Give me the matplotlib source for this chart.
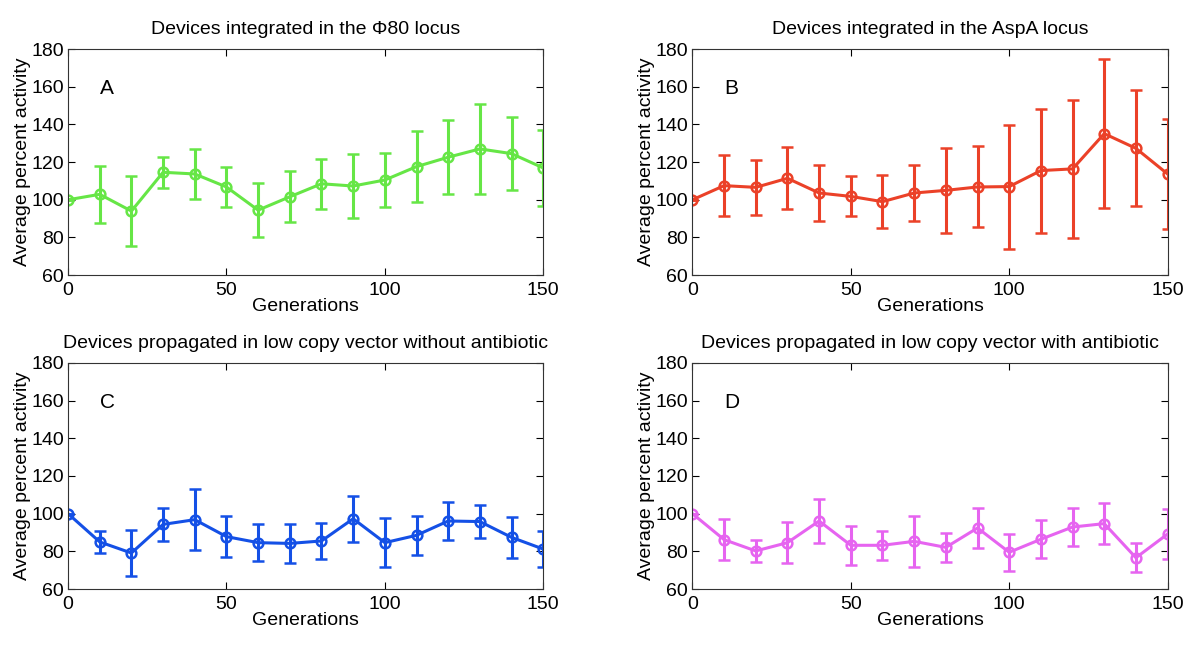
import matplotlib
matplotlib.use("Agg")
import matplotlib.pyplot as plt

plt.rcParams.update({
    "font.family": ["Liberation Sans", "DejaVu Sans"], "font.size": 14,
    "xtick.direction": "in", "ytick.direction": "in",
    "xtick.top": True, "ytick.right": True,
    "axes.linewidth": 0.8, "axes.edgecolor": "#333333",
})

generations = list(range(0, 151, 10))

# A: Phi80 locus
mean_a = [100, 102.9, 94.0, 114.6, 113.7, 106.8, 94.5, 101.6, 108.5, 107.3, 110.5, 117.6, 122.6, 127.0, 124.5, 116.9]
err_a = [0, 15.0, 18.5, 8.2, 13.2, 10.5, 14.3, 13.6, 13.4, 17.2, 14.1, 19.0, 19.5, 24.0, 19.4, 20.3]
# B: AspA locus
mean_b = [100, 107.5, 106.6, 111.4, 103.6, 101.8, 99.0, 103.6, 105.0, 106.8, 107.0, 115.5, 116.4, 135.1, 127.3, 113.7]
err_b = [0, 16.2, 14.6, 16.5, 14.8, 10.6, 13.9, 15.1, 22.6, 21.5, 32.9, 32.9, 36.8, 39.5, 30.8, 29.0]
# C: low copy vector, no antibiotic
mean_c = [100, 85.0, 79.1, 94.3, 96.8, 87.8, 84.6, 84.2, 85.5, 97.3, 84.6, 88.5, 96.1, 95.8, 87.4, 81.2]
err_c = [0, 5.8, 12.2, 8.7, 16.3, 11.0, 9.7, 10.5, 9.7, 12.3, 13.0, 10.2, 9.9, 8.7, 11.0, 9.6]
# D: low copy vector, with antibiotic
mean_d = [100, 86.2, 80.2, 84.6, 96.1, 83.2, 83.2, 85.3, 82.1, 92.4, 79.5, 86.4, 92.9, 94.7, 76.6, 89.2]
err_d = [0, 10.9, 5.7, 10.8, 11.8, 10.5, 7.6, 13.6, 7.8, 10.7, 9.8, 10.1, 9.9, 10.9, 7.6, 13.3]

panels = [
    ("Devices integrated in the \u03a680 locus", "A", mean_a, err_a, "#66E646"),
    ("Devices integrated in the AspA locus", "B", mean_b, err_b, "#EB4128"),
    ("Devices propagated in low copy vector without antibiotic", "C", mean_c, err_c, "#1450E6"),
    ("Devices propagated in low copy vector with antibiotic", "D", mean_d, err_d, "#E664F0"),
]
positions = [
    [0.0567, 0.585, 0.396, 0.341],
    [0.577, 0.585, 0.396, 0.341],
    [0.0567, 0.1116, 0.396, 0.341],
    [0.577, 0.1116, 0.396, 0.341],
]

fig = plt.figure(figsize=(12, 6.63), dpi=100)
for (title, letter, mean, err, color), pos in zip(panels, positions):
    ax = fig.add_axes(pos)
    ax.errorbar(generations, mean, yerr=err, color=color, lw=2.2, elinewidth=2.2,
                capsize=4.5, capthick=2.2, marker="o", ms=7, mfc="none", mew=1.8)
    ax.set_xlim(0, 150); ax.set_ylim(60, 180)
    ax.set_xticks([0, 50, 100, 150]); ax.set_yticks(range(60, 181, 20))
    ax.tick_params(length=5, labelsize=14)
    ax.tick_params(axis="x", pad=5)
    ax.tick_params(axis="y", pad=3)
    ax.set_title(title, fontsize=14, pad=11)
    ax.set_xlabel("Generations", fontsize=14, labelpad=-1)
    ax.set_ylabel("Average percent activity", fontsize=14, labelpad=0)
    ax.text(10, 159, letter, fontsize=15, va="center", ha="left")

fig.savefig("out.png", dpi=100)
